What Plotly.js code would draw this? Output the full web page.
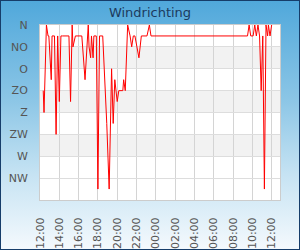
<!DOCTYPE html>
<html>
<head>
<meta charset="utf-8">
<script src="https://cdn.plot.ly/plotly-3.0.1.min.js"></script>
<style>
html,body{margin:0;padding:0;}
#wrap{width:300px;height:250px;box-sizing:border-box;border:1px solid #163d6a;
background:linear-gradient(to bottom,#50a8db 0%,#8cc6e6 40%,#c6e3f3 70%,#f4f9fd 100%);}
#chart{width:298px;height:248px;}
</style>
</head>
<body>
<div id="wrap"><div id="chart"></div></div>
<script>
const times = [
 "2024-01-01 12:20","2024-01-01 12:25","2024-01-01 12:40","2024-01-01 12:50","2024-01-01 12:55",
 "2024-01-01 13:10","2024-01-01 13:15","2024-01-01 13:30","2024-01-01 13:40","2024-01-01 13:50",
 "2024-01-01 14:00","2024-01-01 14:10","2024-01-01 14:20","2024-01-01 15:00","2024-01-01 15:10",
 "2024-01-01 15:20","2024-01-01 15:25","2024-01-01 15:40","2024-01-01 16:20","2024-01-01 16:40",
 "2024-01-01 17:00","2024-01-01 17:05","2024-01-01 17:15","2024-01-01 17:20","2024-01-01 17:30",
 "2024-01-01 17:35","2024-01-01 17:50","2024-01-01 18:00","2024-01-01 18:10","2024-01-01 18:30",
 "2024-01-01 18:55","2024-01-01 19:10","2024-01-01 19:25","2024-01-01 19:35","2024-01-01 19:45",
 "2024-01-01 20:00","2024-01-01 20:10","2024-01-01 20:35","2024-01-01 20:40","2024-01-01 20:50",
 "2024-01-01 21:05","2024-01-01 21:20","2024-01-01 21:30","2024-01-01 21:40","2024-01-01 21:50",
 "2024-01-01 22:15","2024-01-01 22:30","2024-01-01 23:05","2024-01-01 23:20","2024-01-01 23:30",
 "2024-01-02 09:30","2024-01-02 09:40","2024-01-02 09:50","2024-01-02 10:05","2024-01-02 10:15",
 "2024-01-02 10:25","2024-01-02 10:35","2024-01-02 10:45","2024-01-02 10:55","2024-01-02 11:05",
 "2024-01-02 11:15","2024-01-02 11:25","2024-01-02 11:35","2024-01-02 11:40","2024-01-02 11:50",
 "2024-01-02 12:00"
];
const direction = [
 135,180,0,22.5,22.5,
 112.5,22.5,22.5,225,22.5,
 157.5,22.5,22.5,22.5,157.5,
 0,45,22.5,22.5,112.5,
 0,45,67.5,22.5,67.5,
 22.5,22.5,337.5,22.5,22.5,
 202.5,337.5,90,202.5,112.5,
 157.5,135,135,112.5,135,
 0,22.5,45,22.5,22.5,
 67.5,22.5,22.5,0,22.5,
 22.5,0,22.5,22.5,0,
 22.5,0,22.5,135,22.5,
 337.5,0,22.5,0,22.5,
 0
];
const yTickVals = [0,45,90,135,180,225,270,315];
const yTickText = ["N","NO","O","ZO","Z","ZW","W","NW"];
const bandStarts = [45,135,225];

const shapes = bandStarts.map(b => ({
  type:'rect', xref:'paper', yref:'y', x0:0, x1:1, y0:b, y1:b+45,
  fillcolor:'#f2f2f2', line:{width:0}, layer:'below'
}));

const trace = {
  x: times, y: direction, type:'scatter', mode:'lines',
  line:{color:'#ff0000', width:1}, hoverinfo:'skip'
};

const layout = {
  width:298, height:248,
  margin:{l:39, r:19, t:24, b:49, pad:0},
  paper_bgcolor:'rgba(0,0,0,0)', plot_bgcolor:'#ffffff',
  showlegend:false,
  title:{text:'Windrichting', x:0.5, xanchor:'center', y:0.955, yanchor:'middle',
         font:{family:'DejaVu Sans', size:13, color:'#1c3a5e'}},
  xaxis:{type:'date', range:['2024-01-01 12:00','2024-01-02 12:52'],
         tick0:'2024-01-01 12:00', dtick:7200000, tickformat:'%H:%M', tickangle:-90,
         showgrid:true, gridcolor:'#d4d4d4', gridwidth:1,
         showline:true, linecolor:'#cccccc', linewidth:1, mirror:true,
         ticks:'outside', ticklen:12, tickcolor:'rgba(0,0,0,0)',
         tickfont:{family:'DejaVu Sans', size:11, color:'#555555'}, zeroline:false},
  yaxis:{range:[360,0], tickvals:yTickVals, ticktext:yTickText,
         showgrid:true, gridcolor:'#dddddd', gridwidth:1,
         showline:true, linecolor:'#cccccc', linewidth:1, mirror:true,
         ticks:'outside', ticklen:9, tickcolor:'rgba(0,0,0,0)',
         tickfont:{family:'DejaVu Sans', size:11, color:'#555555'}, zeroline:false},
  shapes: shapes
};
Plotly.newPlot('chart',[trace],layout,{displayModeBar:false, staticPlot:true});
</script>
</body>
</html>
